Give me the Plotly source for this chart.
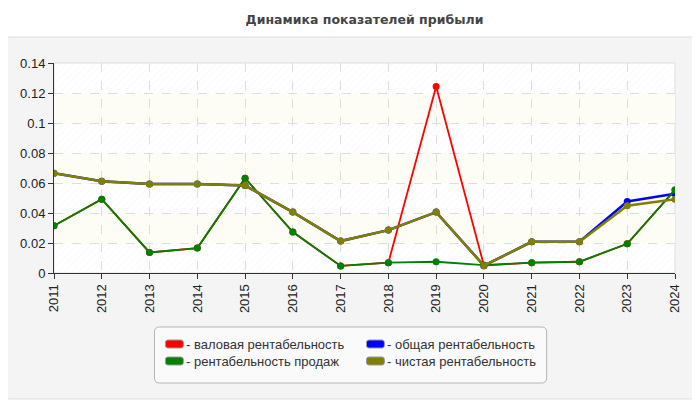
import plotly.graph_objects as go

# data
years = list(range(2011, 2025))
gross_margin = [0.0315, 0.0492, 0.0137, 0.0166, 0.0632, 0.0273, 0.0047,
                0.0069, 0.1244, 0.0050, 0.0069, 0.0075, 0.0195, 0.0554]
total_margin = [0.0665, 0.0612, 0.0594, 0.0594, 0.0583, 0.0406, 0.0213,
                0.0286, 0.0406, 0.0049, 0.0208, 0.0208, 0.0477, 0.0528]
sales_margin = [0.0315, 0.0492, 0.0137, 0.0166, 0.0632, 0.0273, 0.0047,
                0.0069, 0.0075, 0.0053, 0.0069, 0.0075, 0.0195, 0.0554]
net_margin = [0.0665, 0.0612, 0.0594, 0.0594, 0.0583, 0.0406, 0.0213,
              0.0286, 0.0406, 0.0049, 0.0208, 0.0208, 0.0448, 0.0492]
y_ticks = [0, 0.02, 0.04, 0.06, 0.08, 0.1, 0.12, 0.14]

series = [
    ("валовая рентабельность", gross_margin, "#ff0000", 1.8),
    ("общая рентабельность", total_margin, "#0000ff", 2.5),
    ("рентабельность продаж", sales_margin, "#008000", 1.8),
    ("чистая рентабельность", net_margin, "#808000", 2.5),
]

OFF = 8  #page body margin
W, H = 700 - OFF, 400 - OFF
L, R, T, B = 51 - OFF, 675 - OFF, 63 - OFF, 273 - OFF


#reference pixel -> paper coordinates
def px(x):
    return (x - OFF - L) / (R - L)


def py(y):
    return (B - (y - OFF)) / (B - T)


def rounded_rect(x0, y0, x1, y1, r):
    rx = r / (R - L)
    ry = r / (B - T)
    a, b, c, d = px(x0), py(y1), px(x1), py(y0)
    return (f"M{a+rx},{b} L{c-rx},{b} Q{c},{b} {c},{b+ry} "
            f"L{c},{d-ry} Q{c},{d} {c-rx},{d} L{a+rx},{d} "
            f"Q{a},{d} {a},{d-ry} L{a},{b+ry} Q{a},{b} {a+rx},{b} Z")


fig = go.Figure()

#hatched bands
for i in range(0, len(y_ticks) - 1, 2):
    lo, hi = y_ticks[i], y_ticks[i + 1]
    fig.add_trace(go.Scatter(
        x=[years[0], years[-1], years[-1], years[0], years[0]],
        y=[lo, lo, hi, hi, lo],
        mode="lines", fill="toself", line=dict(width=0),
        fillcolor="rgba(0,0,0,0)",
        fillpattern=dict(shape="/", fgcolor="#e8e8e8", bgcolor="rgba(0,0,0,0)",
                         size=5, solidity=0.15),
        hoverinfo="skip", showlegend=False))

for name, vals, color, w in series:
    fig.add_trace(go.Scatter(
        x=years, y=vals, mode="lines+markers", name=name,
        line=dict(color=color, width=w),
        marker=dict(color=color, size=7),
        showlegend=False))

shapes = [
    #outer panel
    dict(type="path", xref="paper", yref="paper", layer="below",
         path=rounded_rect(1, 37, 698, 399, 6),
         fillcolor="#f4f4f4", line=dict(color="#dedede", width=1)),
    #plot area
    dict(type="rect", xref="paper", yref="paper", layer="below",
         x0=0, x1=1, y0=0, y1=1, fillcolor="#ffffff",
         line=dict(color="#dddddd", width=1)),
]
#plain yellowish bands
for i in range(1, len(y_ticks) - 1, 2):
    shapes.append(dict(type="rect", xref="paper", yref="y", layer="below",
                       x0=0, x1=1, y0=y_ticks[i], y1=y_ticks[i + 1],
                       fillcolor="#fdfdf5", line=dict(width=0)))

#legend box
shapes.append(dict(type="path", xref="paper", yref="paper",
                   path=rounded_rect(152, 327, 546, 383, 5),
                   fillcolor="#fafafa", line=dict(color="#b4b4b4", width=1)))

annotations = []
legend_pos = [(163, 344), (365, 344), (163, 361), (365, 361)]
for (name, vals, color, w), (lx, ly) in zip(series, legend_pos):
    shapes.append(dict(type="path", xref="paper", yref="paper",
                       path=rounded_rect(lx, ly - 4, lx + 18, ly + 4, 2.5),
                       fillcolor=color, line=dict(color="#999999", width=1)))
    annotations.append(dict(xref="paper", yref="paper", x=px(lx + 19), y=py(ly),
                            xanchor="left", yanchor="middle", showarrow=False,
                            text="- " + name,
                            font=dict(family="Liberation Sans, Arial", size=13,
                                      color="#333333")))

fig.update_layout(
    width=W, height=H,
    margin=dict(l=L, r=W - R, t=T, b=H - B),
    paper_bgcolor="#ffffff",
    plot_bgcolor="rgba(0,0,0,0)",
    title=dict(text="<b>Динамика показателей прибыли</b>", x=0.5, xref="paper",
               xanchor="center", y=1 - (20 - OFF) / H, yanchor="middle",
               font=dict(family="DejaVu Sans, Verdana", size=12.5, color="#444444")),
    shapes=shapes,
    annotations=annotations,
    showlegend=False,
    font=dict(family="Liberation Sans, Arial", size=13, color="#222222"),
)
fig.update_xaxes(
    range=[years[0], years[-1]], tickmode="array", tickvals=years,
    ticktext=[str(y) for y in years], tickangle=-90,
    showgrid=True, gridcolor="#dddddd", griddash="dash", gridwidth=1,
    showline=True, linecolor="#333333", linewidth=1,
    ticks="outside", ticklen=5, tickcolor="#333333", zeroline=False)
fig.update_yaxes(
    range=[0, 0.14], tickmode="array", tickvals=y_ticks,
    ticktext=[f"{v:g}" for v in y_ticks],
    showgrid=True, gridcolor="#dddddd", griddash="dash", gridwidth=1,
    showline=True, linecolor="#333333", linewidth=1,
    ticks="outside", ticklen=5, tickcolor="#333333", zeroline=False)

fig.write_html("out.html")
